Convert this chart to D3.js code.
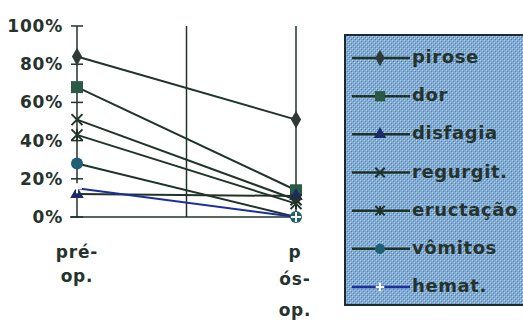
<!DOCTYPE html>
<html><head><meta charset="utf-8">
<script src="https://cdn.jsdelivr.net/npm/d3@7"></script>
<style>
html,body{margin:0;padding:0;background:#fff;}
svg{display:block;}
text{font-family:"DejaVu Sans",Arial,sans-serif;font-weight:bold;fill:#26332d;}
</style></head>
<body><svg id="c" width="523" height="322"></svg>
<script>
const categories = ["pré-op.", "pós-op."];
const categoryLines = [["pré-", "op."], ["p", "ós-", "op."]];
const seriesNames = ["pirose", "dor", "disfagia", "regurgit.", "eructação", "vômitos", "hemat."];
const pirose = [84, 51];
const dor = [68, 14];
const disfagia = [12, 11];
const regurgit = [51, 9];
const eructacao = [43, 7];
const vomitos = [28, 0];
const hemat = [15, 0];
const yTicks = [0, 20, 40, 60, 80, 100];
const yTickLabels = ["0%", "20%", "40%", "60%", "80%", "100%"];

const seriesValues = [pirose, dor, disfagia, regurgit, eructacao, vomitos, hemat];
const styles = [
  {line:"#1f3329", marker:"diamond", fill:"#2f3a36"},
  {line:"#1f3329", marker:"square", fill:"#2a5a44"},
  {line:"#1f3329", marker:"triangle", fill:"#1c2a6a"},
  {line:"#1f3329", marker:"x", fill:"#1f3329"},
  {line:"#1f3329", marker:"asterisk", fill:"#1f3329"},
  {line:"#1f3329", marker:"circle", fill:"#1f5f74"},
  {line:"#1d2f9a", marker:"plus", fill:"#ffffff"}
];

const svg = d3.select("#c");
const defs = svg.append("defs");
const pat = defs.append("pattern").attr("id","dither").attr("width",4).attr("height",4)
  .attr("patternUnits","userSpaceOnUse");
pat.append("rect").attr("width",4).attr("height",4).attr("fill","#82acd3");
pat.append("rect").attr("x",0).attr("y",0).attr("width",1).attr("height",1).attr("fill","#b9d3ea");
pat.append("rect").attr("x",2).attr("y",2).attr("width",1).attr("height",1).attr("fill","#b9d3ea");
pat.append("rect").attr("x",1).attr("y",1).attr("width",1).attr("height",1).attr("fill","#4d7ca8");
pat.append("rect").attr("x",3).attr("y",3).attr("width",1).attr("height",1).attr("fill","#4d7ca8");

const x = d3.scalePoint().domain(categories).range([77, 296]);
const y = d3.scaleLinear().domain([0, 100]).range([217, 26]);

const axisColor = "#1f3329";
const xMid = (x(categories[0]) + x(categories[1])) / 2;
[x(categories[0]), xMid, x(categories[1])].forEach(xx => {
  svg.append("line").attr("x1", xx).attr("x2", xx).attr("y1", y(100)).attr("y2", y(0))
    .attr("stroke", axisColor).attr("stroke-width", 1.5);
});
svg.append("line").attr("x1", 70).attr("x2", x(categories[1])).attr("y1", y(0)).attr("y2", y(0))
  .attr("stroke", axisColor).attr("stroke-width", 1.5);

const yAxis = d3.axisLeft(y).tickValues(yTicks).tickFormat((d, i) => yTickLabels[i]).tickSize(0).tickPadding(14);
const gy = svg.append("g").attr("transform", `translate(${x(categories[0])},0)`).call(yAxis);
gy.select(".domain").remove();
gy.selectAll("text").attr("font-size", 17).attr("letter-spacing", 0.8).attr("fill", "#26332d")
  .style("font-family", '"DejaVu Sans",Arial,sans-serif').style("font-weight","bold");
yTicks.forEach(t => {
  svg.append("line").attr("x1", x(categories[0]) - 6).attr("x2", x(categories[0]) + 6)
    .attr("y1", y(t)).attr("y2", y(t)).attr("stroke", axisColor).attr("stroke-width", 1.5);
});

const lineYs = [[253, 277], [253, 280, 311]];
categories.forEach((c, i) => {
  categoryLines[i].forEach((ln, j) => {
    svg.append("text").attr("x", x(c) + (i === 1 ? -1 : 0)).attr("y", lineYs[i][j])
      .attr("text-anchor", "middle").attr("dominant-baseline", "middle")
      .attr("font-size", 17).attr("letter-spacing", 0.8).text(ln);
  });
});

function drawMarker(g, type, cx, cy, fill, s) {
  const sz = s || 1;
  if (type === "diamond") {
    g.append("path").attr("d", d3.symbol(d3.symbolDiamond, 90 * sz)())
      .attr("transform", `translate(${cx},${cy})`).attr("fill", fill);
  } else if (type === "square") {
    g.append("rect").attr("x", cx - 6 * sz).attr("y", cy - 6 * sz).attr("width", 12 * sz).attr("height", 12 * sz).attr("fill", fill);
  } else if (type === "triangle") {
    g.append("path").attr("d", d3.symbol(d3.symbolTriangle, 80 * sz)())
      .attr("transform", `translate(${cx},${cy})`).attr("fill", fill);
  } else if (type === "x") {
    const r = 5.5 * sz;
    g.append("path").attr("d", `M${cx-r},${cy-r}L${cx+r},${cy+r}M${cx-r},${cy+r}L${cx+r},${cy-r}`)
      .attr("stroke", fill).attr("stroke-width", 2);
  } else if (type === "asterisk") {
    const r = 5.5 * sz;
    g.append("path").attr("d", `M${cx-r},${cy-r}L${cx+r},${cy+r}M${cx-r},${cy+r}L${cx+r},${cy-r}M${cx},${cy-r}L${cx},${cy+r}`)
      .attr("stroke", fill).attr("stroke-width", 2);
  } else if (type === "circle") {
    g.append("circle").attr("cx", cx).attr("cy", cy).attr("r", 6 * sz).attr("fill", fill);
  } else if (type === "plus") {
    const r = 5 * sz;
    g.append("path").attr("d", `M${cx-r},${cy}L${cx+r},${cy}M${cx},${cy-r}L${cx},${cy+r}`)
      .attr("stroke", fill).attr("stroke-width", 2);
  }
}

const line = d3.line().x((d, i) => x(categories[i])).y(d => y(d));
const gs = svg.append("g");
seriesValues.forEach((vals, k) => {
  gs.append("path").attr("d", line(vals)).attr("fill", "none")
    .attr("stroke", styles[k].line).attr("stroke-width", 2);
});
seriesValues.forEach((vals, k) => {
  vals.forEach((v, i) => {
    drawMarker(gs, styles[k].marker, x(categories[i]), y(v), styles[k].fill);
  });
});

const lg = svg.append("g");
lg.append("rect").attr("x", 345).attr("y", 35).attr("width", 185).attr("height", 270)
  .attr("fill", "url(#dither)").attr("stroke", "#1f2a30").attr("stroke-width", 2);
const legendY = d3.scalePoint().domain(seriesNames).range([58, 287]);
seriesNames.forEach((n, k) => {
  const ly = legendY(n);
  lg.append("line").attr("x1", 352).attr("x2", 410).attr("y1", ly).attr("y2", ly)
    .attr("stroke", styles[k].line).attr("stroke-width", 2.5);
  drawMarker(lg, styles[k].marker, 380, ly, styles[k].fill, 0.85);
  lg.append("text").attr("x", 412).attr("y", ly).attr("dominant-baseline", "middle")
    .attr("font-size", 18).attr("letter-spacing", 0.6).attr("fill", "#141c19").text(n);
});
</script></body></html>
